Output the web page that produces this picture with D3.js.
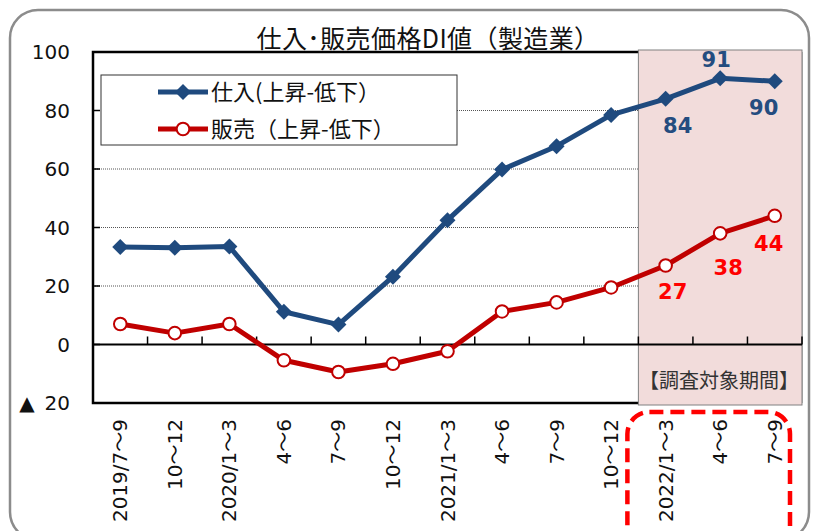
<!DOCTYPE html>
<html>
<head>
<meta charset="utf-8">
<script src="https://cdn.jsdelivr.net/npm/d3@7"></script>
<style>
  html, body { margin: 0; padding: 0; background: #fff; }
  svg { display: block; }
  text { font-family: "DejaVu Sans", "Noto Sans CJK JP", sans-serif; }
  .jp { font-family: "Noto Sans CJK JP", "DejaVu Sans", sans-serif; }
</style>
</head>
<body>
<svg id="chart" width="813" height="531"></svg>
<script>
// Quarterly periods
const categories = ["2019/7～9", "10～12", "2020/1～3", "4～6", "7～9", "10～12",
  "2021/1～3", "4～6", "7～9", "10～12", "2022/1～3", "4～6", "7～9"];
// 仕入(上昇-低下) DI
const purchaseDI = [33.3, 33.1, 33.5, 11.2, 6.8, 23.2, 42.5, 59.8, 67.8, 78.5, 84, 91, 90];
// 販売(上昇-低下) DI
const salesDI = [7.0, 3.9, 7.0, -5.4, -9.4, -6.6, -2.3, 11.3, 14.4, 19.5, 27, 38, 44];
// Y axis ticks and their labels
const yTickValues = [-20, 0, 20, 40, 60, 80, 100];
const yTickLabels = ["▲\u200220", "0", "20", "40", "60", "80", "100"];
// Survey period: last three quarters
const surveyStart = 10;
const surveyLabel = "【調査対象期間】";
const titleText = "仕入･販売価格DI値（製造業）";
const legendLabels = ["仕入(上昇-低下）", "販売（上昇-低下）"];

// label placement relative to the point (dx, baseline dy)
const purchaseLabelOffsets = [[12, 34], [-4, -11], [-11, 34]];
const salesLabelOffsets = [[7, 33], [8, 42], [-6, 35]];

const svg = d3.select("#chart");
const plot = { left: 93, right: 802, top: 52, bottom: 403 };

const x = d3.scaleBand().domain(d3.range(categories.length))
  .range([plot.left, plot.right]).paddingInner(0).paddingOuter(0);
const xc = i => x(i) + x.bandwidth() / 2;
const y = d3.scaleLinear().domain([-20, 100]).range([plot.bottom, plot.top]);

const blue = "#1f4a7e";
const red = "#c00000";

// outer rounded frame
svg.append("rect")
  .attr("x", 10).attr("y", 10).attr("width", 799).attr("height", 530)
  .attr("rx", 28).attr("ry", 28)
  .attr("fill", "#fff").attr("stroke", "#8c8c8c").attr("stroke-width", 2.5);

// gridlines
svg.append("g").selectAll("line")
  .data([20, 40, 60, 80])
  .join("line")
  .attr("x1", plot.left).attr("x2", plot.right)
  .attr("y1", d => y(d)).attr("y2", d => y(d))
  .attr("stroke", "#555").attr("stroke-width", 1).attr("stroke-dasharray", "1,1");

// plot frame: top, left, bottom
svg.append("path")
  .attr("d", `M${plot.right},${plot.top}H${plot.left}V${plot.bottom}H${plot.right}`)
  .attr("fill", "none").attr("stroke", "#000").attr("stroke-width", 2.5);
svg.append("line")
  .attr("x1", plot.right).attr("x2", plot.right)
  .attr("y1", plot.top).attr("y2", plot.bottom)
  .attr("stroke", "#777").attr("stroke-width", 1);

// left axis ticks (inward)
svg.append("g").selectAll("line")
  .data(yTickValues)
  .join("line")
  .attr("x1", plot.left).attr("x2", plot.left + 7)
  .attr("y1", d => y(d)).attr("y2", d => y(d))
  .attr("stroke", "#000").attr("stroke-width", 1.5);

// survey period shading
svg.append("rect")
  .attr("x", x(surveyStart))
  .attr("y", y(100) - 2)
  .attr("width", plot.right - x(surveyStart))
  .attr("height", y(-20) - y(100) + 4)
  .attr("fill", "#f2dcdb").attr("stroke", "#808080").attr("stroke-width", 1);

// title
svg.append("text")
  .attr("class", "jp")
  .attr("x", 428).attr("y", 48)
  .attr("text-anchor", "middle")
  .attr("font-size", 25).attr("letter-spacing", 0.4).attr("fill", "#111")
  .text(titleText);

// y tick labels
svg.append("g").selectAll("text")
  .data(yTickValues)
  .join("text")
  .attr("x", 70).attr("y", d => y(d))
  .attr("dy", "0.36em")
  .attr("text-anchor", "end")
  .attr("font-size", 20).attr("fill", "#111")
  .text((d, i) => yTickLabels[i]);

// zero axis with category ticks
svg.append("line")
  .attr("x1", plot.left).attr("x2", plot.right)
  .attr("y1", y(0)).attr("y2", y(0))
  .attr("stroke", "#000").attr("stroke-width", 2);
svg.append("g").selectAll("line")
  .data(d3.range(1, categories.length + 1))
  .join("line")
  .attr("x1", d => d < categories.length ? x(d) : plot.right)
  .attr("x2", d => d < categories.length ? x(d) : plot.right)
  .attr("y1", y(0)).attr("y2", y(0) - 8)
  .attr("stroke", "#000").attr("stroke-width", 1.5);

// x category labels (vertical)
svg.append("g").selectAll("text")
  .data(categories)
  .join("text")
  .attr("transform", (d, i) => `translate(${xc(i)},${plot.bottom + 16}) rotate(-90)`)
  .attr("text-anchor", "end")
  .attr("dominant-baseline", "central")
  .attr("font-size", 20).attr("fill", "#111")
  .text(d => d);

// survey period label
svg.append("text")
  .attr("class", "jp")
  .attr("x", plot.right - 3).attr("y", 388)
  .attr("text-anchor", "end")
  .attr("font-size", 20).attr("fill", "#333")
  .text(surveyLabel);

// dashed highlight around the survey period labels
svg.append("rect")
  .attr("x", x(surveyStart) - 11).attr("y", plot.bottom + 9)
  .attr("width", plot.right - x(surveyStart) - 1).attr("height", 140)
  .attr("rx", 22).attr("ry", 22)
  .attr("fill", "none").attr("stroke", "#ff0000").attr("stroke-width", 4.5)
  .attr("stroke-dasharray", "14,7");

// series lines
const line = d3.line().x((d, i) => xc(i)).y(d => y(d));
svg.append("path").datum(salesDI)
  .attr("d", line).attr("fill", "none")
  .attr("stroke", red).attr("stroke-width", 5).attr("stroke-linejoin", "round");
svg.append("path").datum(purchaseDI)
  .attr("d", line).attr("fill", "none")
  .attr("stroke", blue).attr("stroke-width", 5).attr("stroke-linejoin", "round");

// markers
function diamondPath(cx, cy, r) {
  return `M${cx},${cy - r}L${cx + r},${cy}L${cx},${cy + r}L${cx - r},${cy}Z`;
}
svg.append("g").selectAll("path")
  .data(purchaseDI)
  .join("path")
  .attr("d", (d, i) => diamondPath(xc(i), y(d), 8))
  .attr("fill", blue);
svg.append("g").selectAll("circle")
  .data(salesDI)
  .join("circle")
  .attr("cx", (d, i) => xc(i)).attr("cy", d => y(d))
  .attr("r", 6.3)
  .attr("fill", "#fff").attr("stroke", red).attr("stroke-width", 2);

// value labels for the survey period
const fmt = d3.format(".0f");
svg.append("g").selectAll("text")
  .data(purchaseDI.slice(surveyStart))
  .join("text")
  .attr("x", (d, i) => xc(surveyStart + i) + purchaseLabelOffsets[i][0])
  .attr("y", (d, i) => y(d) + purchaseLabelOffsets[i][1])
  .attr("text-anchor", "middle")
  .attr("font-size", 21).attr("font-weight", "bold").attr("fill", "#244c7f")
  .text(d => fmt(d));
svg.append("g").selectAll("text")
  .data(salesDI.slice(surveyStart))
  .join("text")
  .attr("x", (d, i) => xc(surveyStart + i) + salesLabelOffsets[i][0])
  .attr("y", (d, i) => y(d) + salesLabelOffsets[i][1])
  .attr("text-anchor", "middle")
  .attr("font-size", 21).attr("font-weight", "bold").attr("fill", "#ff0000")
  .text(d => fmt(d));

// legend
const lg = svg.append("g");
lg.append("rect")
  .attr("x", 101).attr("y", 75).attr("width", 356).attr("height", 70)
  .attr("fill", "#fff").attr("stroke", "#333").attr("stroke-width", 1);
const legendRows = [
  { label: legendLabels[0], color: blue, marker: "diamond", cy: 92 },
  { label: legendLabels[1], color: red, marker: "circle", cy: 129 }
];
legendRows.forEach(r => {
  lg.append("line")
    .attr("x1", 158).attr("x2", 208).attr("y1", r.cy).attr("y2", r.cy)
    .attr("stroke", r.color).attr("stroke-width", 5);
  if (r.marker === "diamond") {
    lg.append("path").attr("d", diamondPath(183, r.cy, 8)).attr("fill", r.color);
  } else {
    lg.append("circle").attr("cx", 183).attr("cy", r.cy).attr("r", 6.3)
      .attr("fill", "#fff").attr("stroke", r.color).attr("stroke-width", 2);
  }
  lg.append("text")
    .attr("class", "jp")
    .attr("x", 211).attr("y", r.cy).attr("dy", "0.36em")
    .attr("font-size", 22).attr("fill", "#111")
    .text(r.label);
});
</script>
</body>
</html>
